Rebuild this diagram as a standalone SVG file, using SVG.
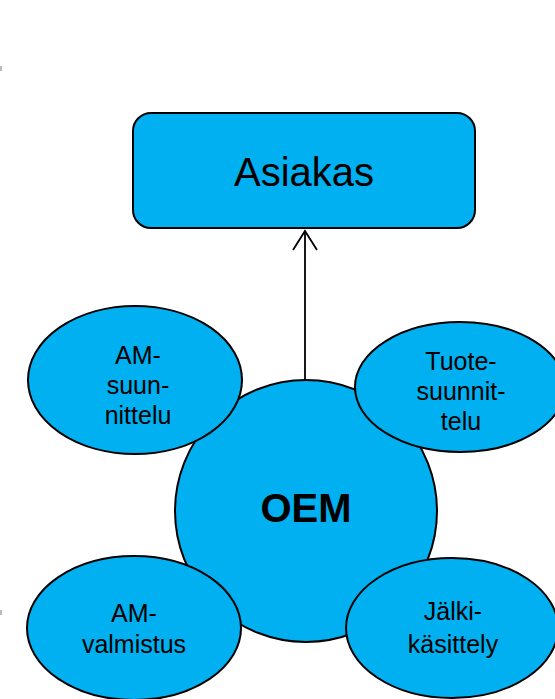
<svg xmlns="http://www.w3.org/2000/svg" width="555" height="699" viewBox="0 0 555 699">
  <style>
    .shape { fill: #00b0f0; stroke: #000; stroke-width: 2; }
    .lbl { font-family: "Liberation Sans", Arial, sans-serif; font-size: 25px; fill: #000; text-anchor: middle; }
    .conn { stroke: #000; stroke-width: 1.8; fill: none; }
  </style>
  <rect width="555" height="699" fill="#fff"/>

  <!-- edge ticks -->
  <rect x="0" y="66" width="2" height="5" fill="#bbb"/>
  <rect x="0" y="610" width="2" height="5" fill="#bbb"/>

  <g id="connectors">
    <line class="conn" x1="305" y1="382" x2="305" y2="231"/>
    <path class="conn" d="M293,250 L305,231 L317,250"/>
  </g>

  <g id="asiakas">
    <rect class="shape" x="133" y="113" width="342" height="115" rx="18"/>
    <text class="lbl" x="304" y="186" style="font-size:40px">Asiakas</text>
  </g>

  <g id="oem">
    <circle class="shape" cx="306" cy="511" r="131"/>
    <text class="lbl" x="306" y="522" style="font-size:40px;font-weight:bold">OEM</text>
  </g>

  <g id="am-suunnittelu">
    <ellipse class="shape" cx="135" cy="380" rx="107" ry="74"/>
    <text class="lbl" x="138" y="364">AM-</text>
    <text class="lbl" x="138" y="394">suun-</text>
    <text class="lbl" x="138" y="424">nittelu</text>
  </g>

  <g id="tuotesuunnittelu">
    <ellipse class="shape" cx="460" cy="387" rx="105" ry="65"/>
    <text class="lbl" x="461" y="370">Tuote-</text>
    <text class="lbl" x="461" y="400">suunnit-</text>
    <text class="lbl" x="461" y="430">telu</text>
  </g>

  <g id="am-valmistus">
    <ellipse class="shape" cx="134" cy="628" rx="107" ry="72"/>
    <text class="lbl" x="134" y="622">AM-</text>
    <text class="lbl" x="134" y="653">valmistus</text>
  </g>

  <g id="jalkikasittely">
    <ellipse class="shape" cx="452" cy="628" rx="106" ry="70"/>
    <text class="lbl" x="453" y="620">Jälki-</text>
    <text class="lbl" x="453" y="653">käsittely</text>
  </g>
</svg>
